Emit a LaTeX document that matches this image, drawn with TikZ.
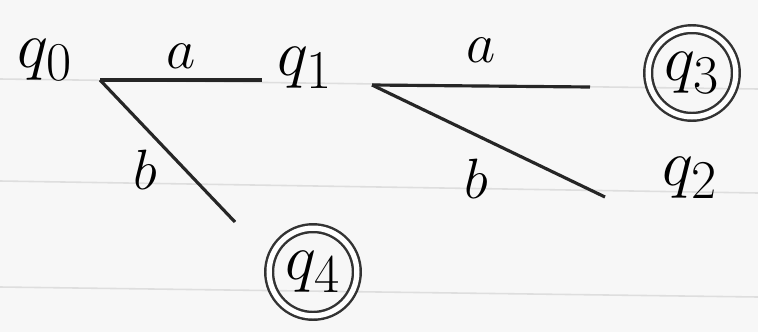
\documentclass[tikz,border=0pt]{standalone}
\usepackage{amsmath,amssymb}
\usepackage[dvipsnames]{xcolor}

\begin{document}
\begin{tikzpicture}[x=0.02cm,y=-0.02cm,
    state/.style={font=\Huge,scale=1.5,inner sep=0pt},
    accept/.style={state,circle,draw=black!80,line width=1.4pt,double,double distance=3pt,minimum size=1.17cm},
    trans/.style={draw=black!85,line width=1.8pt},
    lbl/.style={font=\Huge,scale=1.3}]
  % paper
  \fill[black!3] (0,0) rectangle (758,332);
  \useasboundingbox (0,0) rectangle (758,332);
  \foreach \ya/\yb in {79/89,181/193,287/297}
    \draw[black!13,line width=0.9pt] (0,\ya) -- (758,\yb);
  % states
  \node[state] (q0) at (45,60) {$q_0$};
  \node[state] (q1) at (305,68) {$q_1$};
  \node[state] (q2) at (690,178) {$q_2$};
  \node[accept] (q3) at (692,73) {$q_3$};
  \node[accept] (q4) at (313,272) {$q_4$};
  % free ends of the strokes
  \coordinate (s0) at (100,80);
  \coordinate (e01) at (262,80);
  \coordinate (e04) at (235,222);
  \coordinate (s1) at (372,85);
  \coordinate (e13) at (590,87);
  \coordinate (e12) at (605,197);
  % transitions
  \draw[trans] (s0) -- (e01) node[lbl,midway,above=1pt]{$a$};
  \draw[trans] (s0) -- (e04) node[lbl,pos=.63,left=8pt]{$b$};
  \draw[trans] (s1) -- (e13) node[lbl,midway,above=6pt]{$a$};
  \draw[trans] (s1) -- (e12) node[lbl,pos=.55,below left=1pt]{$b$};
\end{tikzpicture}
\end{document}
